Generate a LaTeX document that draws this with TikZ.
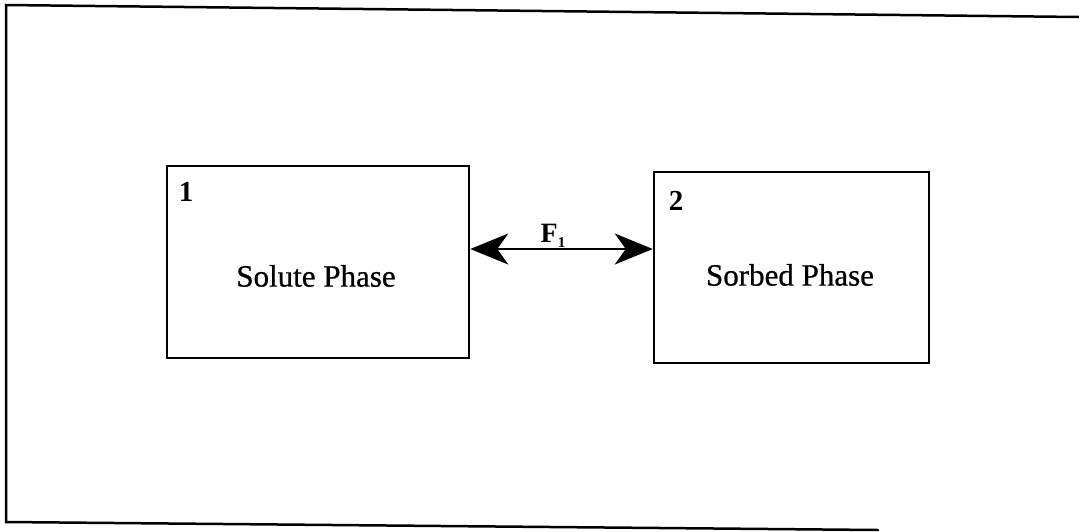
\documentclass[tikz,border=0pt]{standalone}
\usepackage{fontspec}
\setmainfont{Liberation Serif}
\newfontfamily\heavyserif[FakeBold=0.7]{Liberation Serif}
\usetikzlibrary{arrows.meta}
\begin{document}
\begin{tikzpicture}[x=1pt,y=-1pt,
  phasebox/.style={draw=black,line width=2.5pt,minimum width=#1,inner sep=0pt},
  phaselabel/.style={font=\heavyserif\fontsize{31}{36}\selectfont},
  tagnum/.style={font=\fontsize{29}{34}\selectfont\bfseries},
  flux/.style={line width=2.2pt,{Stealth[length=38pt,width=31pt,inset=11pt]}-{Stealth[length=38pt,width=31pt,inset=11pt]}}]
\useasboundingbox (0,0) rectangle (1079,531);
% outer frame
\draw[line width=2.5pt,line cap=round] (1079,17) -- (6,5) -- (6,522) -- (878,530);
% compartments
\node[phasebox=302pt,minimum height=192pt] (b1) at (318,262) {};
\node[phasebox=275pt,minimum height=191pt] (b2) at (791.5,267.5) {};
\node[tagnum] (n1) at (186,192) {1};
\node[tagnum] (n2) at (676,201) {2};
\node[phaselabel] (t1) at (316,276) {Solute Phase};
\node[phaselabel] (t2) at (790,275) {Sorbed Phase};
% exchange between phases
\coordinate (mid) at (560,249);
\draw[flux] (b1.east |- mid) -- (b2.west |- mid);
\node[font=\fontsize{28}{32}\selectfont\bfseries] (F) at (553,236) {F\raisebox{-0.35ex}{\fontsize{15}{16}\selectfont 1}};
\end{tikzpicture}
\end{document}
